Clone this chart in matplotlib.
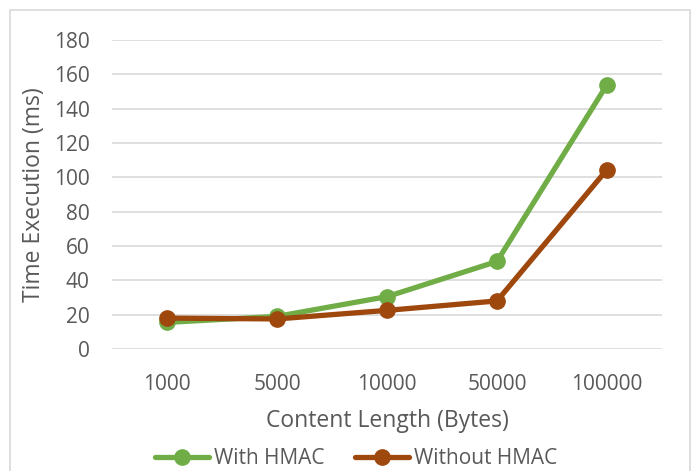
import matplotlib
matplotlib.use("Agg")
import matplotlib.pyplot as plt
from matplotlib.patches import Rectangle

categories = ["1000", "5000", "10000", "50000", "100000"]
with_hmac = [15.5, 19, 30.5, 51, 154]
without_hmac = [18, 17.5, 22.5, 28, 104.5]

GREEN = "#70AD47"
BROWN = "#9E480E"
TEXT = "#595959"
GRID = "#D9D9D9"

plt.rcParams["font.family"] = ["Open Sans", "DejaVu Sans"]

fig = plt.figure(figsize=(6.94, 4.71), dpi=100)
# chart frame, open at the bottom edge like the source image
fig.patches.append(Rectangle((10 / 694, -10 / 471), 680 / 694, 471 / 471,
                             transform=fig.transFigure, fill=False,
                             edgecolor=GRID, linewidth=1.2))

ax = fig.add_axes([112 / 694, 1 - 349 / 471, 550 / 694, 309 / 471])
x = range(len(categories))
ax.plot(x, with_hmac, color=GREEN, linewidth=3.8, marker="o", markersize=11,
        solid_capstyle="round", label="With HMAC", zorder=3)
ax.plot(x, without_hmac, color=BROWN, linewidth=3.8, marker="o", markersize=11,
        solid_capstyle="round", label="Without HMAC", zorder=4)

ax.set_xlim(-0.5, len(categories) - 0.5)
ax.set_ylim(0, 180)
ax.set_yticks(range(0, 181, 20))
ax.set_xticks(list(x))
ax.set_xticklabels(categories)
ax.grid(axis="y", color=GRID, linewidth=1.2)
ax.set_axisbelow(True)
for side in ["top", "right", "left", "bottom"]:
    ax.spines[side].set_visible(False)
ax.tick_params(length=0, labelsize=15, colors=TEXT)
ax.tick_params(axis="y", pad=16)
ax.tick_params(axis="x", pad=18)

ax.set_xlabel("Content Length (Bytes)", fontsize=16.5, color=TEXT, labelpad=10)
ax.set_ylabel("Time Execution (ms)", fontsize=16.5, color=TEXT, labelpad=6)

leg = fig.legend(loc="center", bbox_to_anchor=(356 / 694, 1 - 459 / 471), ncol=2,
                 frameon=False, fontsize=15, handlelength=2.6, handletextpad=0.2,
                 columnspacing=1.5, borderpad=0, borderaxespad=0)
for t in leg.get_texts():
    t.set_color(TEXT)

fig.savefig("out.png", dpi=100)
